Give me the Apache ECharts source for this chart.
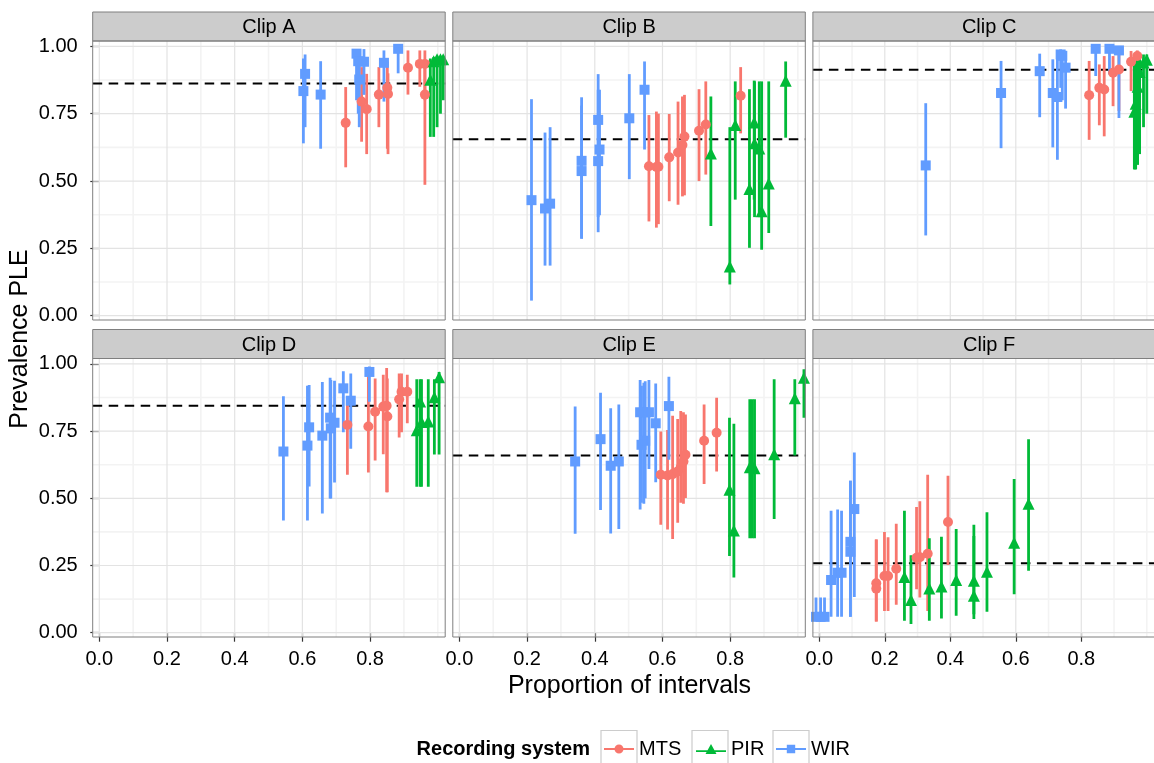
<!DOCTYPE html>
<html><head><meta charset="utf-8">
<script src="https://cdn.jsdelivr.net/npm/echarts@6/dist/echarts.min.js"></script>
<style>html,body{margin:0;padding:0;background:#fff}#c{width:1154px;height:763px}</style>
</head><body><div id="c"></div><script>
// ---- data: each row = [proportion of intervals, prevalence, lower, upper] ----
const CLIPS = ['Clip A', 'Clip B', 'Clip C', 'Clip D', 'Clip E', 'Clip F'];
const SYSTEMS = ['MTS', 'PIR', 'WIR'];
const REF_LINES = [0.862, 0.655, 0.913, 0.844, 0.659, 0.258];
const X_TICKS = [0, 0.2, 0.4, 0.6, 0.8];
const X_MINOR = [0.1, 0.3, 0.5, 0.7, 0.9, 1.0];
const Y_TICKS = [0, 0.25, 0.5, 0.75, 1.0];
const Y_MINOR = [0.125, 0.375, 0.625, 0.875];

const A_MTS = [[0.728,0.716,0.551,0.849],[0.775,0.795,0.646,0.923],[0.790,0.767,0.600,0.898],[0.826,0.821,0.700,0.923],[0.851,0.846,0.620,0.944],[0.853,0.823,0.600,0.900],[0.912,0.921,0.821,0.985],[0.947,0.935,0.850,0.985],[0.962,0.935,0.800,0.985],[0.962,0.821,0.486,0.920]];
const A_PIR = [[0.978,0.876,0.664,0.955],[0.988,0.945,0.664,0.960],[0.998,0.952,0.700,0.965],[1.008,0.952,0.750,0.965],[1.016,0.952,0.800,0.965]];
const A_WIR = [[0.608,0.898,0.700,0.970],[0.603,0.834,0.640,0.955],[0.654,0.821,0.620,0.945],[0.760,0.973,0.800,0.990],[0.765,0.945,0.750,0.990],[0.782,0.943,0.820,0.990],[0.768,0.877,0.700,0.980],[0.841,0.939,0.795,0.985],[0.883,0.991,0.900,0.995]];

const B_MTS = [[0.560,0.555,0.350,0.745],[0.582,0.552,0.327,0.758],[0.588,0.553,0.340,0.750],[0.620,0.588,0.425,0.749],[0.646,0.606,0.412,0.795],[0.659,0.634,0.443,0.814],[0.665,0.665,0.447,0.820],[0.708,0.687,0.500,0.841],[0.728,0.710,0.524,0.870],[0.831,0.817,0.677,0.923]];
const B_PIR = [[0.743,0.602,0.333,0.814],[0.799,0.183,0.116,0.700],[0.815,0.708,0.431,0.870],[0.857,0.470,0.252,0.841],[0.871,0.717,0.431,0.873],[0.872,0.640,0.366,0.870],[0.886,0.621,0.366,0.870],[0.893,0.388,0.245,0.870],[0.914,0.491,0.307,0.870],[0.964,0.872,0.661,0.944]];
const B_WIR = [[0.213,0.429,0.056,0.804],[0.253,0.398,0.186,0.680],[0.268,0.416,0.186,0.700],[0.361,0.575,0.286,0.811],[0.361,0.537,0.286,0.780],[0.410,0.727,0.366,0.897],[0.414,0.617,0.373,0.839],[0.410,0.574,0.310,0.839],[0.502,0.733,0.507,0.897],[0.547,0.839,0.617,0.944]];

const C_MTS = [[0.824,0.819,0.653,0.946],[0.855,0.846,0.707,0.933],[0.870,0.840,0.666,0.964],[0.897,0.902,0.778,0.964],[0.915,0.914,0.760,0.970],[0.952,0.943,0.834,0.983],[0.971,0.964,0.850,0.985]];
const C_PIR = [[0.962,0.757,0.543,0.946],[0.966,0.787,0.543,0.946],[0.972,0.850,0.560,0.950],[0.978,0.905,0.600,0.960],[0.990,0.940,0.700,0.970],[1.000,0.950,0.750,0.970]];
const C_WIR = [[0.325,0.558,0.298,0.789],[0.555,0.827,0.622,0.946],[0.673,0.908,0.737,0.973],[0.713,0.827,0.625,0.952],[0.727,0.812,0.579,0.957],[0.737,0.970,0.846,0.989],[0.742,0.965,0.800,0.985],[0.752,0.921,0.769,0.983],[0.844,0.991,0.890,0.995],[0.886,0.991,0.896,0.995],[0.915,0.985,0.734,0.992]];

const D_MTS = [[0.733,0.773,0.588,0.865],[0.795,0.767,0.596,0.964],[0.815,0.822,0.641,0.946],[0.839,0.841,0.664,0.960],[0.849,0.844,0.522,0.985],[0.851,0.804,0.522,0.946],[0.886,0.868,0.726,0.964],[0.893,0.896,0.746,0.964],[0.910,0.896,0.779,0.960]];
const D_PIR = [[0.938,0.753,0.543,0.943],[0.948,0.860,0.543,0.943],[0.952,0.784,0.543,0.943],[0.972,0.786,0.543,0.943],[0.990,0.876,0.663,0.943],[1.004,0.950,0.663,0.970]];
const D_WIR = [[0.544,0.674,0.417,0.880],[0.615,0.696,0.417,0.919],[0.620,0.764,0.544,0.921],[0.659,0.733,0.443,0.933],[0.682,0.800,0.499,0.948],[0.684,0.760,0.499,0.940],[0.695,0.781,0.559,0.937],[0.721,0.909,0.746,0.973],[0.743,0.863,0.684,0.964],[0.798,0.970,0.859,0.990]];

const E_MTS = [[0.595,0.588,0.402,0.748],[0.615,0.585,0.384,0.754],[0.630,0.590,0.349,0.807],[0.645,0.600,0.409,0.795],[0.654,0.615,0.483,0.825],[0.662,0.637,0.480,0.820],[0.668,0.662,0.501,0.812],[0.723,0.714,0.553,0.849],[0.760,0.744,0.600,0.874]];
const E_PIR = [[0.798,0.532,0.285,0.800],[0.811,0.380,0.205,0.777],[0.858,0.615,0.351,0.868],[0.865,0.620,0.351,0.868],[0.872,0.612,0.351,0.868],[0.930,0.664,0.423,0.943],[0.991,0.872,0.659,0.943],[1.018,0.948,0.800,0.980]];
const E_WIR = [[0.342,0.637,0.368,0.841],[0.417,0.720,0.456,0.893],[0.447,0.621,0.369,0.835],[0.471,0.637,0.386,0.849],[0.534,0.820,0.458,0.940],[0.545,0.820,0.480,0.930],[0.538,0.699,0.483,0.919],[0.549,0.714,0.500,0.935],[0.560,0.820,0.609,0.940],[0.580,0.779,0.560,0.927],[0.619,0.843,0.643,0.952]];

const F_MTS = [[0.174,0.184,0.042,0.347],[0.174,0.164,0.042,0.347],[0.199,0.211,0.081,0.375],[0.210,0.211,0.081,0.355],[0.235,0.238,0.104,0.405],[0.297,0.279,0.162,0.468],[0.307,0.281,0.131,0.489],[0.331,0.294,0.081,0.588],[0.393,0.412,0.252,0.584]];
const F_PIR = [[0.260,0.207,0.044,0.454],[0.280,0.122,0.032,0.288],[0.336,0.164,0.044,0.351],[0.373,0.172,0.053,0.357],[0.418,0.196,0.063,0.386],[0.472,0.193,0.051,0.402],[0.472,0.137,0.069,0.360],[0.512,0.227,0.078,0.448],[0.595,0.335,0.143,0.572],[0.639,0.480,0.230,0.720]];
const F_WIR = [[-0.010,0.059,0.059,0.131],[0.004,0.059,0.059,0.131],[0.016,0.059,0.059,0.131],[0.036,0.196,0.059,0.454],[0.056,0.223,0.059,0.458],[0.068,0.223,0.059,0.454],[0.095,0.301,0.059,0.565],[0.095,0.338,0.059,0.565],[0.107,0.460,0.133,0.670]];

// ---- styling / layout ----
const PANEL_DATA = [[A_MTS,A_PIR,A_WIR],[B_MTS,B_PIR,B_WIR],[C_MTS,C_PIR,C_WIR],[D_MTS,D_PIR,D_WIR],[E_MTS,E_PIR,E_WIR],[F_MTS,F_PIR,F_WIR]];
const COLORS = ['#F8766D', '#00BA38', '#619CFF'];
const SYMBOLS = ['circle', 'triangle', 'rect'];
const SYM_SIZE = [10, 12, 10];
const FONT = '"Liberation Sans", Arial, Helvetica, sans-serif';
const X_MIN = -0.0195, X_MAX = 1.022, Y_MIN = -0.016, Y_MAX = 1.02;
const COL_LEFT = [92.7, 452.8, 812.9], COL_W = 352.5;
const ROW_TOP = [41, 358.5], ROW_H = [279, 278.5];
const STRIP_TOP = [12, 329.5], STRIP_H = 29;

const grids = [], xAxes = [], yAxes = [], series = [], graphics = [];
for (let i = 0; i < 6; i++) {
  const r = Math.floor(i / 3), c = i % 3;
  grids.push({left: COL_LEFT[c], top: ROW_TOP[r], width: COL_W, height: ROW_H[r],
    show: true, backgroundColor: '#fff', borderWidth: 0, containLabel: false});
  const bottom = r === 1, leftCol = c === 0;
  xAxes.push({type: 'value', gridIndex: i, min: X_MIN, max: X_MAX, position: 'bottom',
    axisLine: {show: false}, splitLine: {show: false},
    axisTick: {show: bottom, customValues: X_TICKS, length: 9, lineStyle: {color: '#333', width: 1.2}},
    axisLabel: {show: bottom, customValues: X_TICKS, margin: 12, fontSize: 20, fontFamily: FONT, color: '#000',
      formatter: v => v.toFixed(1)}});
  yAxes.push({type: 'value', gridIndex: i, min: Y_MIN, max: Y_MAX,
    axisLine: {show: false}, splitLine: {show: false},
    axisTick: {show: leftCol, customValues: Y_TICKS, length: 9, lineStyle: {color: '#333', width: 1.2}},
    axisLabel: {show: leftCol, customValues: Y_TICKS, margin: 15, fontSize: 20, fontFamily: FONT, color: '#000',
      formatter: v => v.toFixed(2)}});

  // grid lines
  const gl = [];
  X_MINOR.forEach(v => gl.push([0, v, 0]));
  Y_MINOR.forEach(v => gl.push([1, v, 0]));
  X_TICKS.forEach(v => gl.push([0, v, 1]));
  Y_TICKS.forEach(v => gl.push([1, v, 1]));
  series.push({type: 'custom', name: 'grid' + i, xAxisIndex: i, yAxisIndex: i, z: 1, silent: true, clip: true,
    data: gl, encode: {x: 1, y: 1},
    renderItem: (p, api) => {
      const o = api.value(0), v = api.value(1), major = api.value(2);
      const a = o === 0 ? api.coord([v, Y_MIN]) : api.coord([X_MIN, v]);
      const b = o === 0 ? api.coord([v, Y_MAX]) : api.coord([X_MAX, v]);
      return {type: 'line', shape: {x1: a[0], y1: a[1], x2: b[0], y2: b[1]},
        style: {stroke: major ? '#E3E3E3' : '#F3F3F3', lineWidth: major ? 1.2 : 1.6}};
    }});
  // reference dashed line
  series.push({type: 'custom', name: 'ref' + i, xAxisIndex: i, yAxisIndex: i, z: 2, silent: true, clip: true,
    data: [[X_MIN, REF_LINES[i]]], encode: {x: 0, y: 1},
    renderItem: (p, api) => {
      const v = api.value(1);
      const a = api.coord([X_MIN, v]), b = api.coord([X_MAX, v]);
      return {type: 'line', shape: {x1: a[0], y1: a[1], x2: b[0], y2: b[1]},
        style: {stroke: '#000', lineWidth: 2, lineDash: [9.5, 6.5]}};
    }});
  // error bars
  PANEL_DATA[i].forEach((d, s) => {
    series.push({type: 'custom', name: SYSTEMS[s] + ' range ' + i, xAxisIndex: i, yAxisIndex: i, z: 3, silent: true, clip: true,
      data: d, encode: {x: 0, y: [2, 3]},
      renderItem: (p, api) => {
        const x = api.value(0);
        const a = api.coord([x, api.value(2)]), b = api.coord([x, api.value(3)]);
        return {type: 'line', shape: {x1: a[0], y1: a[1], x2: b[0], y2: b[1]},
          style: {stroke: COLORS[s], lineWidth: 2.8}};
      }});
  });
  // points
  PANEL_DATA[i].forEach((d, s) => {
    series.push({type: 'scatter', name: SYSTEMS[s], xAxisIndex: i, yAxisIndex: i, z: 4, clip: true,
      data: d.map(row => [row[0], row[1]]), symbol: SYMBOLS[s], symbolSize: SYM_SIZE[s],
      itemStyle: {color: COLORS[s], opacity: 1}, emphasis: {disabled: true}});
  });

  // strip + border
  graphics.push({type: 'rect', z: 50, shape: {x: COL_LEFT[c], y: STRIP_TOP[r], width: COL_W, height: STRIP_H},
    style: {fill: '#CCCCCC', stroke: '#7F7F7F', lineWidth: 1}});
  graphics.push({type: 'text', z: 51, x: COL_LEFT[c] + COL_W / 2, y: STRIP_TOP[r] + STRIP_H / 2 + 1,
    style: {text: CLIPS[i], fontSize: 20, fontFamily: FONT, fill: '#000', align: 'center', verticalAlign: 'middle'}});
  graphics.push({type: 'rect', z: 50, shape: {x: COL_LEFT[c], y: ROW_TOP[r], width: COL_W, height: ROW_H[r]},
    style: {fill: null, stroke: '#7F7F7F', lineWidth: 1}});
}

// axis titles
graphics.push({type: 'text', z: 50, x: 629.5, y: 686,
  style: {text: 'Proportion of intervals', fontSize: 25, fontFamily: FONT, fill: '#000', align: 'center', verticalAlign: 'middle'}});
graphics.push({type: 'text', z: 50, x: 20, y: 339, rotation: Math.PI / 2,
  style: {text: 'Prevalence PLE', fontSize: 25, fontFamily: FONT, fill: '#000', align: 'center', verticalAlign: 'middle'}});
// legend title and key boxes
graphics.push({type: 'text', z: 50, x: 590, y: 749,
  style: {text: 'Recording system', fontSize: 20, fontWeight: 'bold', fontFamily: FONT, fill: '#000', align: 'right', verticalAlign: 'middle'}});
const KEY_BOX_X = [601, 692, 773];
KEY_BOX_X.forEach(x => graphics.push({type: 'rect', z: 1, shape: {x: x, y: 730.5, width: 36, height: 36},
  style: {fill: '#fff', stroke: '#CCCCCC', lineWidth: 1.2}}));

const LEG_ICONS = [
  'path://M0,3.6H30V5.4H0Z M10.5,4.5A4.5,4.5 0 1 1 19.5,4.5A4.5,4.5 0 1 1 10.5,4.5Z',
  'path://M0,6.3H30V8.1H0Z M15,0L20.5,10L9.5,10Z',
  'path://M0,3.3H30V5.1H0Z M10.8,0H19.2V8.4H10.8Z'
];
const LEG_H = [9, 10, 8.4];
const LEG_LEFT = [604, 696, 776];
const legends = SYSTEMS.map((s, k) => ({
  left: LEG_LEFT[k], top: 739, padding: 0, itemWidth: 30, itemHeight: LEG_H[k], selectedMode: false, z: 10,
  data: [{name: s, icon: LEG_ICONS[k], itemStyle: {color: COLORS[k]}}],
  textStyle: {fontSize: 20, fontFamily: FONT, color: '#000'}
}));

const chart = echarts.init(document.getElementById('c'), null, {renderer: 'canvas'});
chart.setOption({
  animation: false, backgroundColor: '#fff',
  grid: grids, xAxis: xAxes, yAxis: yAxes, series: series,
  legend: legends, graphic: graphics
});
</script></body></html>
